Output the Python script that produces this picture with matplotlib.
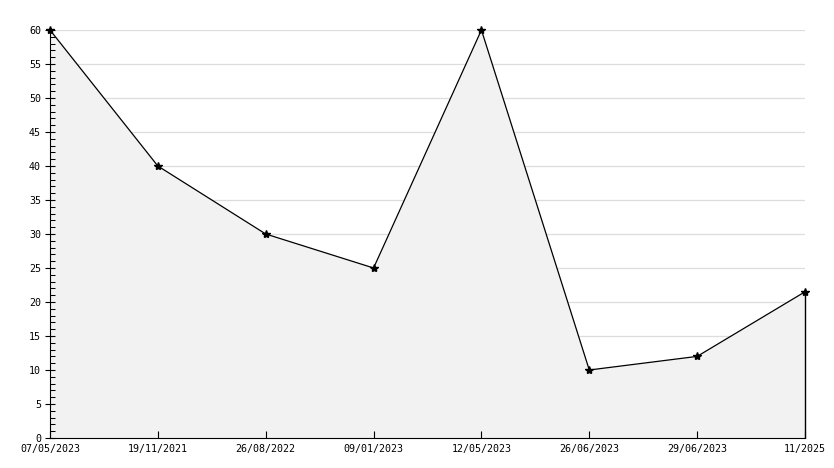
import matplotlib.pyplot as plt
import numpy as np

# categories and values
dates = ['07/05/2023', '19/11/2021', '26/08/2022', '09/01/2023',
         '12/05/2023', '26/06/2023', '29/06/2023', '11/2025']
values = [60, 40, 30, 25, 60, 10, 12, 21.5]
yticks = np.arange(0, 61, 5)

plt.rcParams['font.family'] = 'DejaVu Sans Mono'

fig = plt.figure(figsize=(8.34, 4.68), dpi=100)
ax = fig.add_axes([50/834, 30/468, 755/834, 408/468])

x = np.arange(len(dates))
# grid under the fill, ticks above it
ax.hlines(yticks[1:], x[0], x[-1], color='#dddddd', lw=0.9, zorder=0.1)
ax.fill_between(x, values, 0, color='#f2f2f2', lw=0, zorder=0.2)
ax.vlines(x[-1], 0, values[-1], color='black', lw=1, clip_on=False, zorder=3)
ax.plot(x, values, color='black', lw=0.9, marker='*', ms=6, mfc='black',
        mec='black', clip_on=False, zorder=4)

ax.set_xlim(x[0], x[-1])
ax.set_ylim(0, 60)
ax.set_xticks(x)
ax.set_xticklabels(dates)
ax.set_yticks(yticks)
ax.set_yticks([v for v in range(61) if v % 5], minor=True)

for s in ['top', 'right']:
    ax.spines[s].set_visible(False)

ax.tick_params(axis='y', which='major', direction='inout', length=7, width=0.8, labelsize=7.2, pad=3)
ax.tick_params(axis='y', which='minor', direction='in', length=3.5, width=0.75)
ax.tick_params(axis='x', direction='in', length=5, width=0.8, labelsize=7.2, pad=4)

fig.savefig('out.png', dpi=100)
